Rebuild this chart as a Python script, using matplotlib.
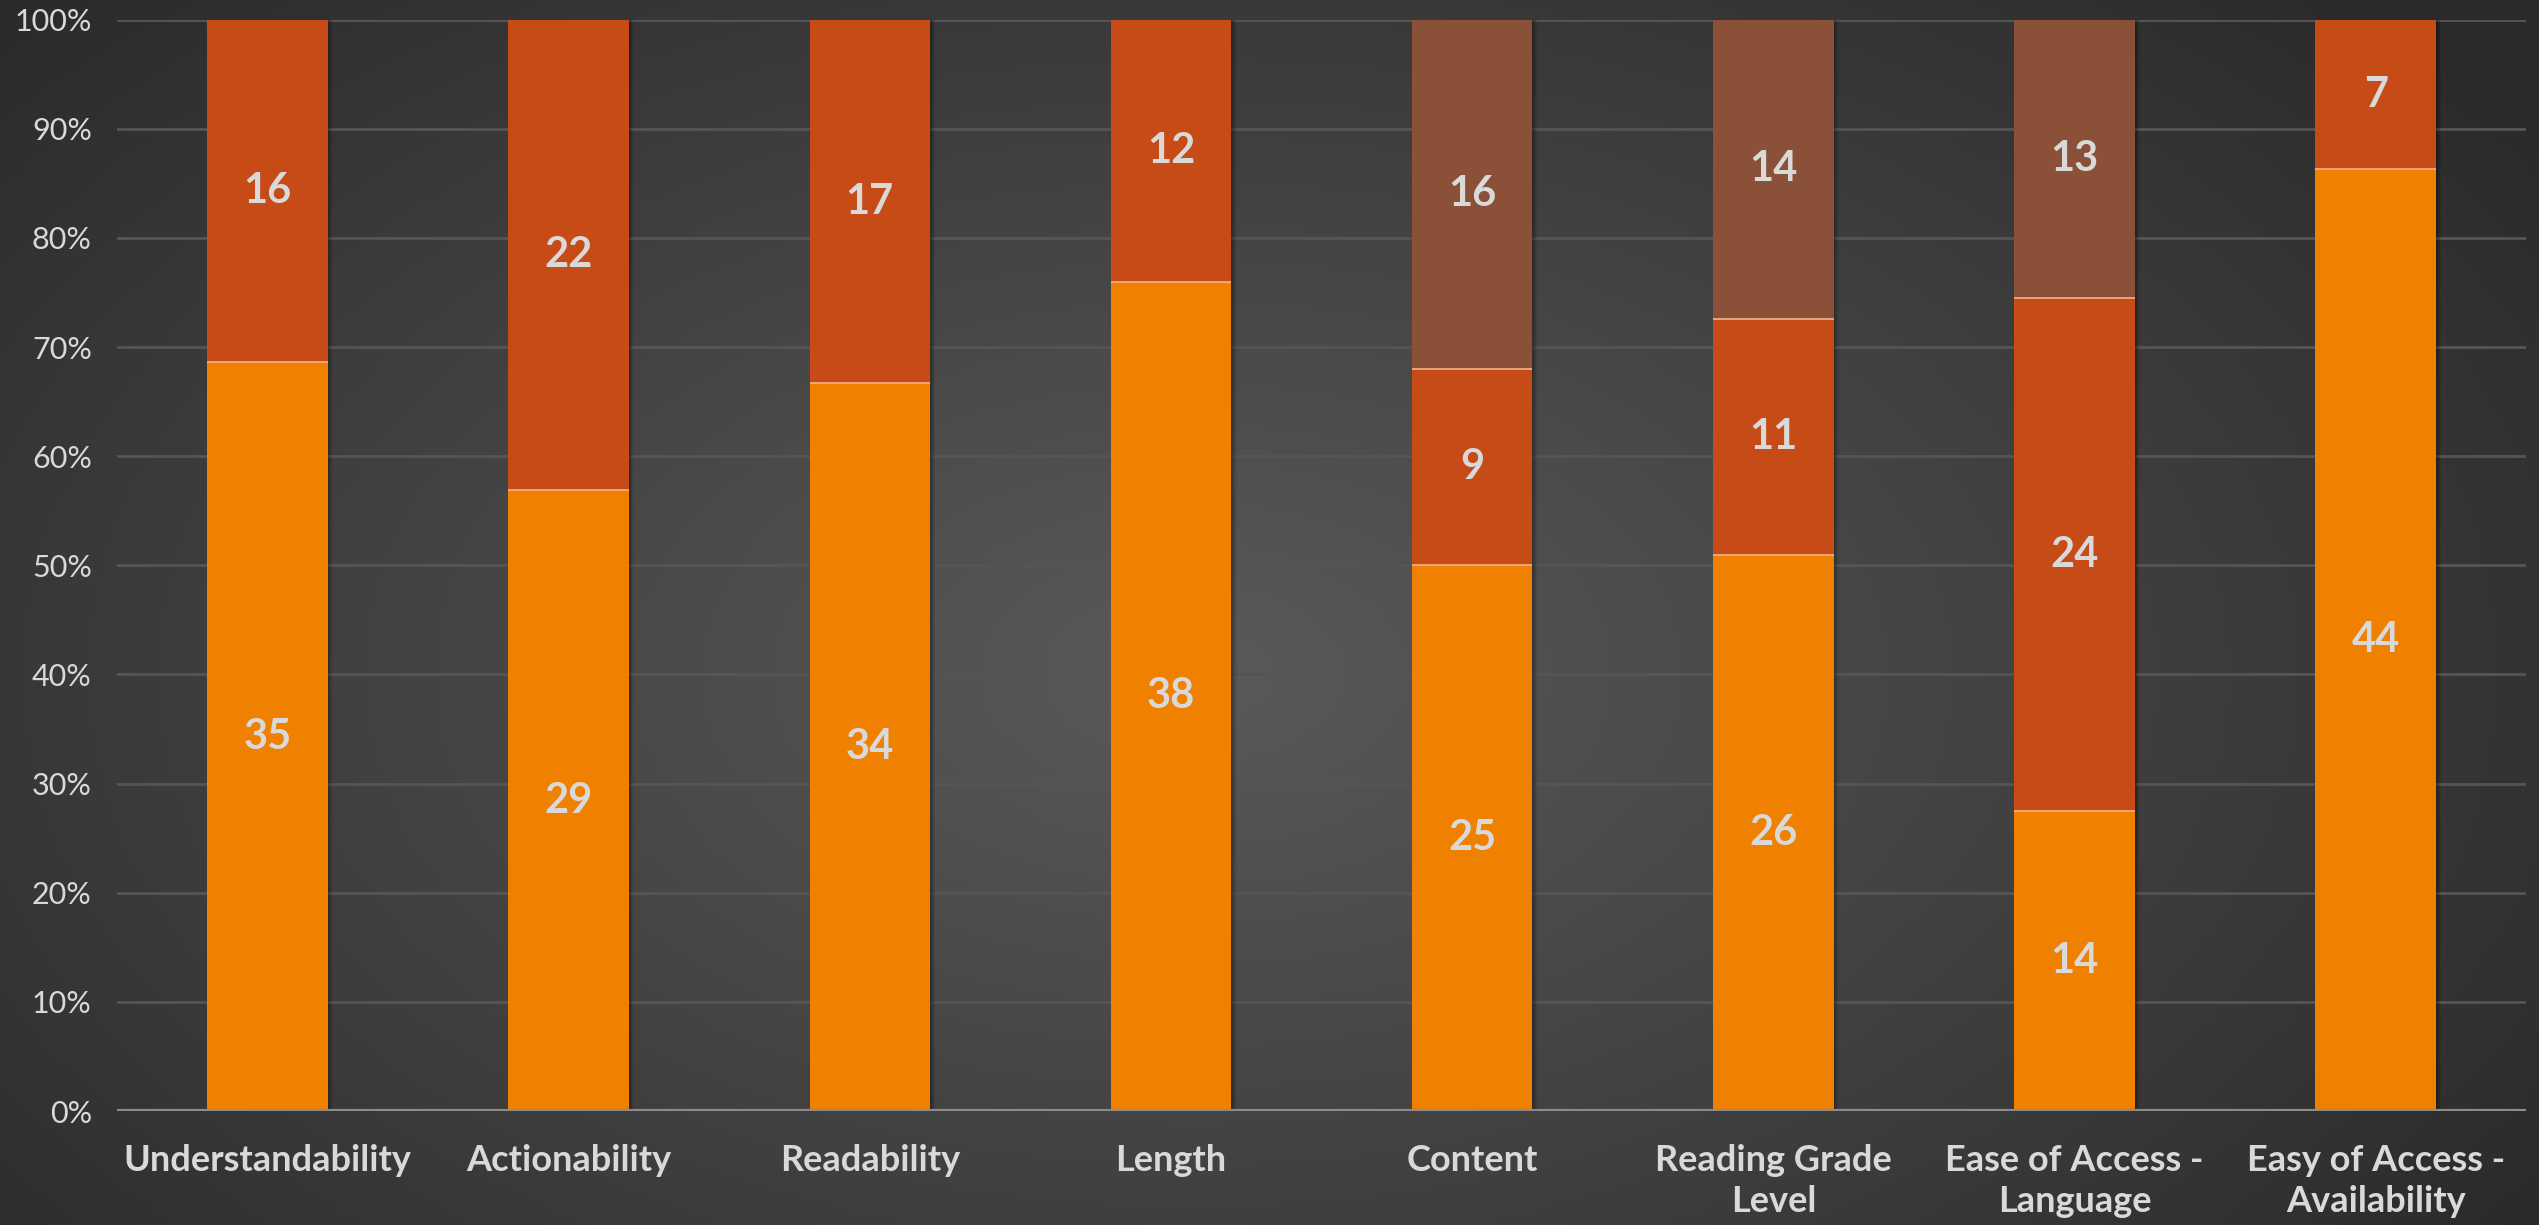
import numpy as np
import matplotlib.pyplot as plt
from matplotlib.colors import LinearSegmentedColormap
from matplotlib.ticker import PercentFormatter

plt.rcParams['font.family'] = ['Lato', 'DejaVu Sans']

# counts per category (bottom, middle, top segment)
categories = ["Understandability", "Actionability", "Readability", "Length",
              "Content", "Reading Grade\nLevel", "Ease of Access -\nLanguage",
              "Easy of Access -\nAvailability"]
seg1 = np.array([35, 29, 34, 38, 25, 26, 14, 44])
seg2 = np.array([16, 22, 17, 12, 9, 11, 24, 7])
seg3 = np.array([0, 0, 0, 0, 16, 14, 13, 0])
colors = ["#F08000", "#C74B16", "#8A5038"]
txt = "#D9D9D9"

total = seg1 + seg2 + seg3
segs = [seg1, seg2, seg3]
pcts = [s / total * 100 for s in segs]

fig = plt.figure(figsize=(25.39, 12.25), dpi=100)

# radial dark background
bg = fig.add_axes([0, 0, 1, 1], zorder=-1)
yy, xx = np.mgrid[0:1:300j, 0:1:600j]
r = np.sqrt(((xx - 0.47) / 0.65) ** 2 + ((yy - 0.55) / 0.8) ** 2)
cmap = LinearSegmentedColormap.from_list("bg", ["#5a5a5a", "#2a2a2a"])
bg.imshow(np.clip(r, 0, 1), cmap=cmap, aspect="auto", extent=[0, 1, 0, 1])
bg.axis("off")

ax = fig.add_axes([0.046, 0.093, 0.949, 0.891])
ax.patch.set_alpha(0)

x = np.arange(len(categories))
w = 0.4

# soft shadow to the right of the bars
for off, a in [(0.006, 0.18), (0.012, 0.12), (0.018, 0.07)]:
    ax.bar(x + off, 100, w, color="black", alpha=a, zorder=1, linewidth=0)

bottom = np.zeros(len(x))
for p, s, c in zip(pcts, segs, colors):
    ax.bar(x, p, w, bottom=bottom, color=c, zorder=2, linewidth=0)
    for xi, b, h, v in zip(x, bottom, p, s):
        if v > 0:
            ax.text(xi, b + h / 2, str(v), ha="center", va="center",
                    color=txt, fontsize=30, fontweight="bold", zorder=4)
    bottom = bottom + p
    # thin light seam between segments
    inner = (bottom < 99.9) & (p > 0)
    ax.hlines(bottom[inner], x[inner] - w / 2, x[inner] + w / 2,
              color="#F2B48A", linewidth=1.2, zorder=3)

ax.set_xlim(-0.5, 7.5)
ax.set_ylim(0, 100)
ax.set_yticks(np.arange(0, 101, 10))
ax.yaxis.set_major_formatter(PercentFormatter(decimals=0))
ax.grid(axis="y", color="#555555", linewidth=2, zorder=0)
ax.set_axisbelow(True)
ax.axhline(0, color="#8C8C8C", linewidth=3, zorder=3)

ax.set_xticks(x)
ax.set_xticklabels(categories, fontsize=26, fontweight="bold", color=txt,
                   linespacing=1.28, va="top")
ax.tick_params(axis="x", length=0, pad=24)
ax.tick_params(axis="y", length=0, labelsize=22, labelcolor=txt, pad=18)
for sp in ax.spines.values():
    sp.set_visible(False)

fig.savefig("out.png", dpi=100)
